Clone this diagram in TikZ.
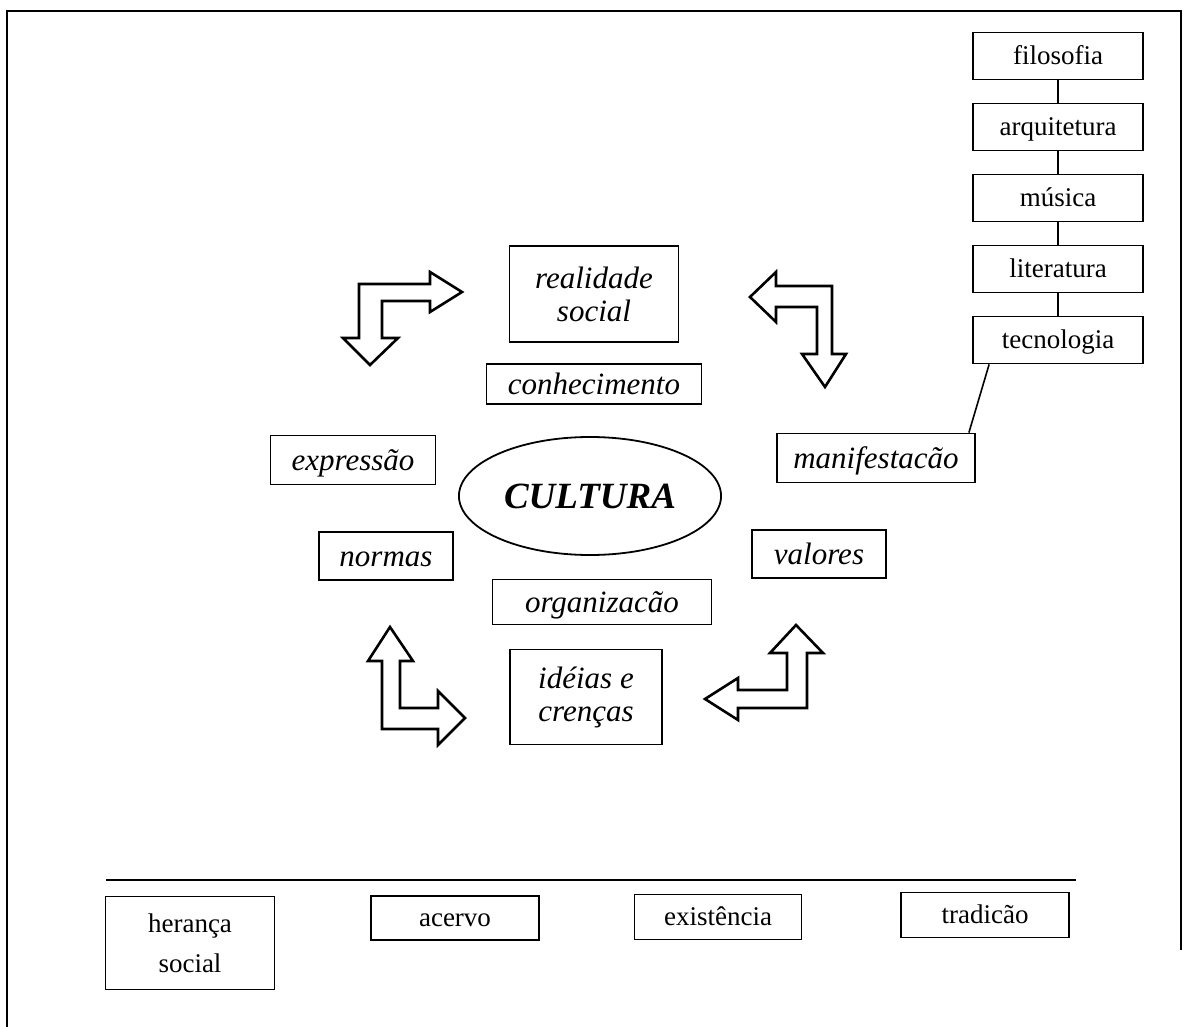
\documentclass[tikz,border=0pt]{standalone}
\usepackage{fontspec}
\setmainfont{Liberation Serif}
\usetikzlibrary{shapes.geometric}

\begin{document}
\begin{tikzpicture}[x=0.5pt,y=-0.5pt,
    ibox/.style={draw, line width=0.9pt, align=center, inner sep=0pt,
      font=\fontsize{15.5}{16.5}\selectfont\itshape},
    rbox/.style={draw, line width=0.9pt, align=center, inner sep=0pt,
      font=\fontsize{13.5}{20}\selectfont},
    ione/.style={text height=12pt, text depth=2pt},
    rone/.style={text height=10.5pt, text depth=2pt},
    larrow/.style={draw, line width=1.3pt, line join=miter}]
          \useasboundingbox (0,0) rectangle (1183,1027);
          % moldura
          \draw[line width=1.2pt] (7,1027) -- (7,11) -- (1181,11) -- (1181,950);

          % centro
          \node[ellipse, draw, line width=0.9pt, minimum width=128pt, minimum height=59pt,
            font=\fontsize{18.5}{20}\selectfont\bfseries\itshape] (cult) at (590,496) {CULTURA};
          \node[ibox, minimum width=84.5pt, minimum height=48pt] (real) at (594,294) {realidade\\social};
          \node[ibox, ione, minimum width=107.5pt, minimum height=20pt] (conh) at (594,384) {conhecimento};
          \node[ibox, ione, minimum width=82.5pt, minimum height=24.5pt] (expr) at (353,460) {expressão};
          \node[ibox, ione, minimum width=99pt, minimum height=24.5pt] (mani) at (876,458) {manifestacão};
          \node[ibox, ione, minimum width=67pt, minimum height=24pt] (norm) at (386,556) {normas};
          \node[ibox, ione, minimum width=67pt, minimum height=24pt] (valo) at (819,554) {valores};
          \node[ibox, ione, minimum width=109.5pt, minimum height=22.5pt] (orga) at (602,602) {organizacão};
          \node[ibox, minimum width=76pt, minimum height=47.5pt] (idei) at (586,697) {idéias e\\crenças};

          % coluna da direita
          \node[rbox, rone, minimum width=85pt, minimum height=23.5pt] (filo) at (1058,56) {filosofia};
          \node[rbox, rone, minimum width=85pt, minimum height=23.5pt] (arqu) at (1058,127) {arquitetura};
          \node[rbox, rone, minimum width=85pt, minimum height=23.5pt] (musi) at (1058,198) {música};
          \node[rbox, rone, minimum width=85pt, minimum height=23.5pt] (lite) at (1058,269) {literatura};
          \node[rbox, rone, minimum width=85pt, minimum height=23.5pt] (tecn) at (1058,340) {tecnologia};
          \draw[line width=0.6pt] (filo) -- (arqu) (arqu) -- (musi) (musi) -- (lite) (lite) -- (tecn);
          \draw[line width=0.8pt] ([xshift=8.5pt]tecn.south west) -- ([xshift=-3.5pt]mani.north east);

          % setas
          \draw[larrow] (359,284) -- (430,284) -- (430,272) -- (462,292) -- (430,312) -- (430,301)
            -- (382,301) -- (382,338) -- (398,338) -- (370,365) -- (343,338) -- (359,338) -- cycle;
          \draw[larrow] (750,297) -- (776,272) -- (776,286) -- (832,286) -- (832,354) -- (846,354)
            -- (825,387) -- (802,354) -- (817,354) -- (817,307) -- (776,307) -- (776,322) -- cycle;
          \draw[larrow] (390,627) -- (413,661) -- (400,661) -- (400,708) -- (438,708) -- (438,691)
            -- (465,718) -- (438,745) -- (438,729) -- (382,729) -- (382,661) -- (368,661) -- cycle;
          \draw[larrow] (796,625) -- (823,653) -- (807,653) -- (807,708) -- (738,708) -- (738,720)
            -- (705,699) -- (738,678) -- (738,690) -- (787,690) -- (787,653) -- (770,653) -- cycle;

          % parte de baixo
          \draw[line width=1pt] (106,880) -- (1076,880);
          \node[rbox, minimum width=84.5pt, minimum height=46.5pt] (hera) at (190,943) {herança\\social};
          \node[rbox, rone, minimum width=84pt, minimum height=22pt] (acer) at (455,918) {acervo};
          \node[rbox, rone, minimum width=83.5pt, minimum height=22.5pt] (exis) at (718,917) {existência};
          \node[rbox, rone, minimum width=84pt, minimum height=22.5pt] (trad) at (985,915) {tradicão};
\end{tikzpicture}
\end{document}
